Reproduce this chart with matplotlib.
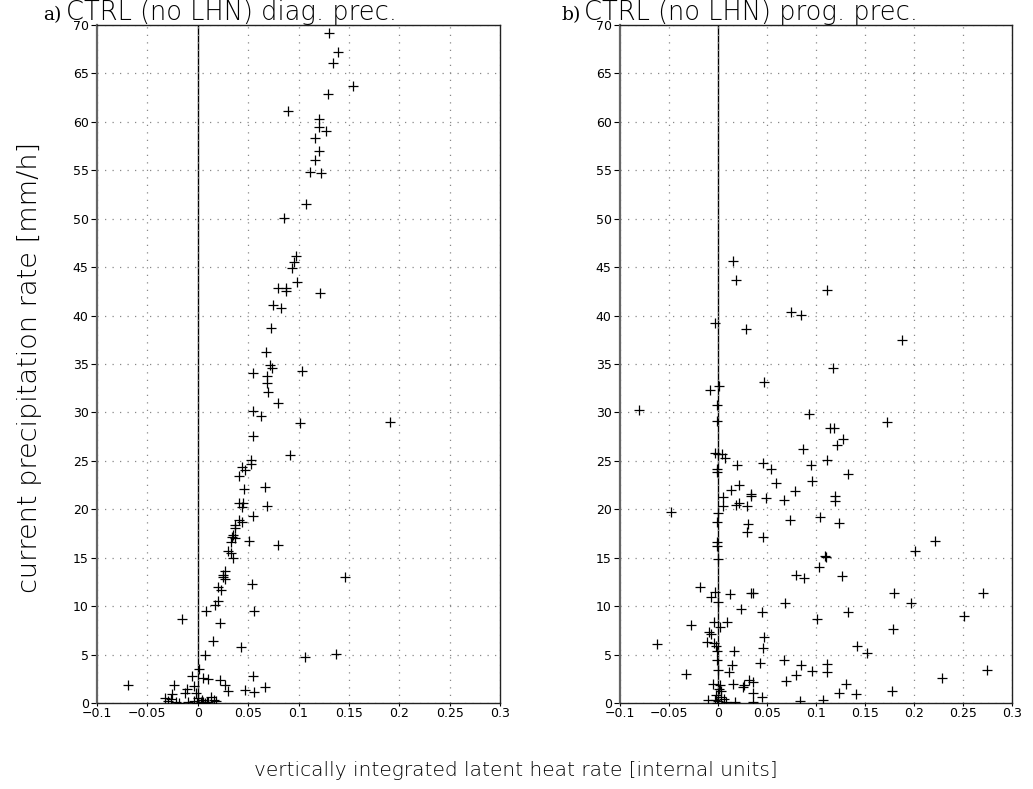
import numpy as np
import matplotlib

matplotlib.use("Agg")
from matplotlib import pyplot as plt

# panel a) CTRL (no LHN) diagnostic precipitation
diag_x = [
    0.130, 0.139, 0.134, 0.154, 0.129, 0.090, 0.120, 0.120, 0.127, 0.116,
    0.120, 0.116, 0.111, 0.122, 0.107, 0.0855,
    0.0976, 0.0959, 0.0934, 0.0986, 0.0797, 0.088, 0.088, 0.1217, 0.0745, 0.0824,
    0.0731, 0.0676, 0.0717, 0.0734, 0.0552, 0.1038, 0.069, 0.0683, 0.070, 0.0793,
    0.0548, 0.0631, 0.1907, 0.101, 0.0552, 0.0914, 0.0531, 0.0524, 0.0441, 0.0466,
    0.041, 0.0666, 0.0459,
    0.0414, 0.0448, 0.0438, 0.0683, 0.0548, 0.0407, 0.0441, 0.0366, 0.0369, 0.0352,
    0.0338, 0.0372, 0.0328, 0.0507, 0.0797, 0.030, 0.0331, 0.0345, 0.0266, 0.0248,
    0.0269, 0.0248, 0.1466, 0.0541, 0.020, 0.0231, 0.0197, 0.0169, 0.0086, 0.0559,
    -0.0152, 0.0224, 0.0148, 0.0434, 0.0072, 0.1376, 0.1069, 0.0014, -0.0059, 0.0052,
    0.0103, 0.0545, 0.0217, -0.0693, -0.0238, 0.0266, 0.0669, -0.0034, -0.011, 0.0303,
    0.0466, 0.0559, -0.0255, -0.0128, -0.0014, 0.0134, -0.0324, 0.0159, -0.0293, -0.0214,
    -0.0183, -0.0097, -0.0034, -0.0007, 0.0, 0.003, 0.007, 0.010, 0.005, 0.009,
    0.018, -0.0266, 0.0003, 0.004,
]
diag_y = [
    69.14, 67.24, 66.06, 63.66, 62.90, 61.15, 60.25, 59.46, 59.03, 58.32,
    57.03, 56.06, 54.84, 54.77, 51.54, 50.04,
    46.18, 45.54, 44.89, 43.46, 42.81, 42.81, 42.56, 42.28, 41.13, 40.77,
    38.76, 36.29, 34.89, 34.57, 34.03, 34.25, 33.71, 32.99, 32.10, 30.99,
    30.16, 29.66, 29.05, 28.87, 27.54, 25.57, 25.11, 24.64, 24.32, 24.03,
    23.39, 22.28, 22.10,
    20.61, 20.61, 20.25, 20.36, 19.35, 18.92, 18.71, 18.38, 18.02, 17.30,
    17.12, 17.01, 16.65, 16.76, 16.33, 15.68, 15.47, 14.93, 13.67, 13.24,
    12.81, 12.99, 12.99, 12.27, 12.01, 11.62, 10.54, 10.14, 9.53, 9.53,
    8.71, 8.27, 6.40, 5.76, 4.96, 5.11, 4.71, 3.53, 2.77, 2.63,
    2.45, 2.77, 2.37, 1.91, 1.91, 1.83, 1.69, 1.73, 1.40, 1.29,
    1.37, 1.12, 0.94, 1.01, 1.01, 0.65, 0.54, 0.36, 0.18, 0.14,
    0.0, 0.11, 0.22, 0.05, 0.0, 0.12, 0.02, 0.08, 0.07, 0.07,
    0.18, 0.43, 0.47, 0.29,
]

# panel b) CTRL (no LHN) prognostic precipitation
prog_x = [
    0.0152, 0.0183, 0.1117, 0.0741, 0.0852, -0.0028, 0.029, 0.1879, 0.1169, 0.0466,
    0.001, -0.0083, -0.0007, -0.081, 0.0924, -0.001, 0.172, 0.1145, 0.1183, 0.1276,
    0.1214, 0.0869, -0.0034, 0.0, 0.0041, 0.0076, 0.111, 0.0193, 0.0459, 0.0538,
    0.0948, -0.0007, -0.0007, 0.1328, 0.059, 0.0959, 0.0217, 0.0134, 0.0783, 0.0341,
    0.0338, 0.0055, 0.0493, 0.0669, 0.119, 0.1193,
    0.0048, 0.0186, 0.0210, 0.030, -0.0476, 0.0, 0.1038, 0.0734, -0.0014, 0.0303,
    0.1238, 0.0297, 0.0459, -0.0007, -0.0007, 0.2214, 0.2007, 0.0, 0.109, 0.1097,
    0.1034, 0.0793, 0.0876, 0.1266, -0.0183, -0.0028, -0.0072, 0.0121, 0.0341, 0.0359,
    -0.0003, 0.0683, 0.180, 0.1966, 0.2707, 0.0231, 0.0452, 0.1324, 0.2507, 0.1007,
    -0.0038, 0.0093, -0.0272, 0.0024, 0.1783, -0.009, -0.0072, 0.0466, -0.0114, -0.0045,
    -0.0624, -0.0024, 0.0462, 0.1414, 0.1517, 0.0162, -0.001, -0.0007, 0.0431, 0.0672,
    0.0852, 0.111, 0.111, 0.0145, 0.0962, 0.2741, -0.0331, 0.0, 0.0114, 0.0793,
    0.0321, 0.0359, 0.0269, 0.0252, 0.0697, 0.131, 0.2283, 0.0148, -0.0052, 0.0024,
    0.1776, 0.1231, 0.1407, 0.0355, 0.0452, -0.0103, 0.0034, 0.0007, -0.0021, 0.0031,
    -0.0034, 0.0, 0.0066, 0.0083, 0.0169, 0.0355, 0.0834, 0.1076, -0.001,
]
prog_y = [
    45.61, 43.67, 42.67, 40.38, 40.02, 39.19, 38.62, 37.44, 34.61, 33.10,
    32.71, 32.28, 30.81, 30.23, 29.87, 29.09, 29.01, 28.41, 28.41, 27.26,
    26.61, 26.25, 25.82, 25.75, 25.72, 25.29, 25.11, 24.61, 24.78, 24.18,
    24.53, 24.18, 23.85, 23.60, 22.74, 22.89, 22.49, 22.03, 21.85, 21.59,
    21.34, 21.24, 21.16, 20.99, 21.42, 20.88,
    20.36, 20.43, 20.68, 20.29, 19.71, 19.64, 19.21, 18.92, 18.71, 18.53,
    18.56, 17.66, 17.16, 16.62, 16.19, 16.73, 15.68, 14.86, 15.18, 15.04,
    14.06, 13.20, 12.91, 13.09, 12.01, 11.47, 10.90, 11.22, 11.37, 11.33,
    10.43, 10.36, 11.40, 10.32, 11.37, 9.68, 9.39, 9.39, 8.99, 8.63,
    8.38, 8.35, 8.06, 7.84, 7.59, 7.37, 7.12, 6.80, 6.33, 6.19,
    6.04, 5.86, 5.72, 5.86, 5.14, 5.40, 5.32, 4.42, 4.17, 4.39,
    3.96, 3.99, 3.20, 3.96, 3.31, 3.38, 3.02, 3.45, 3.17, 2.88,
    2.34, 2.12, 1.91, 1.62, 2.27, 1.98, 2.55, 2.01, 2.01, 1.87,
    1.22, 1.01, 0.97, 1.01, 0.61, 0.36, 1.19, 1.47, 0.83, 0.65,
    0.36, 0.22, 0.43, 0.11, 0.07, 0.07, 0.22, 0.29, 0.0,
]

x_ticks = [-0.1, -0.05, 0, 0.05, 0.1, 0.15, 0.2, 0.25, 0.3]
x_tick_labels = ["\u22120.1", "\u22120.05", "0", "0.05", "0.1", "0.15", "0.2", "0.25", "0.3"]
y_ticks = list(range(0, 75, 5))

panel_letters = ["a)", "b)"]
panel_titles = ["CTRL (no LHN) diag. prec.", "CTRL (no LHN) prog. prec."]


def draw_panel(ax, xs, ys):
    ax.set_xlim(-0.1, 0.3)
    ax.set_ylim(0, 70)
    ax.set_xticks(x_ticks)
    ax.set_xticklabels(x_tick_labels)
    ax.set_yticks(y_ticks)
    ax.grid(True, ls=(0, (1, 5)), color="#888888", lw=0.9)
    ax.axvline(0, color="black", lw=1.0, zorder=1)
    ax.scatter(xs, ys, marker="+", s=50, c="black", linewidths=0.9, zorder=3)
    ax.tick_params(axis="y", direction="out", length=4, width=0.8, labelsize=9, pad=2)
    ax.tick_params(axis="x", direction="out", length=2, width=0.8, labelsize=9, pad=1)
    for sp in ax.spines.values():
        sp.set_linewidth(1.0)
        sp.set_color("#222222")
    ax.spines["left"].set_linewidth(1.6)
    ax.spines["left"].set_color("#666666")


fig = plt.figure(figsize=(10.33, 7.89), dpi=100)
ax1 = fig.add_axes([97 / 1033, 1 - 703 / 789, 403 / 1033, 678 / 789])
ax2 = fig.add_axes([620 / 1033, 1 - 703 / 789, 392 / 1033, 678 / 789])

draw_panel(ax1, diag_x, diag_y)
draw_panel(ax2, prog_x, prog_y)

title_font = {"family": ["DejaVu Sans"], "size": 18.5, "weight": "light", "color": "black"}
base_y = 1 - 20 / 789
fig.text(43 / 1033, base_y, panel_letters[0], family="DejaVu Serif", size=13.5, va="baseline")
fig.text(66 / 1033, base_y, panel_titles[0], va="baseline", fontdict=title_font)
fig.text(561 / 1033, base_y, panel_letters[1], family="DejaVu Serif", size=13.5, va="baseline")
fig.text(584 / 1033, base_y, panel_titles[1], va="baseline", fontdict=title_font)

fig.text(30 / 1033, 1 - 367 / 789, "current precipitation rate [mm/h]",
         rotation=90, va="center", ha="center", size=19.5, weight="light", color="black")
fig.text(516 / 1033, 1 - 770 / 789, "vertically integrated latent heat rate [internal units]",
         va="center", ha="center", size=14.5, weight="light", color="black")

fig.savefig("out.png", dpi=100)
